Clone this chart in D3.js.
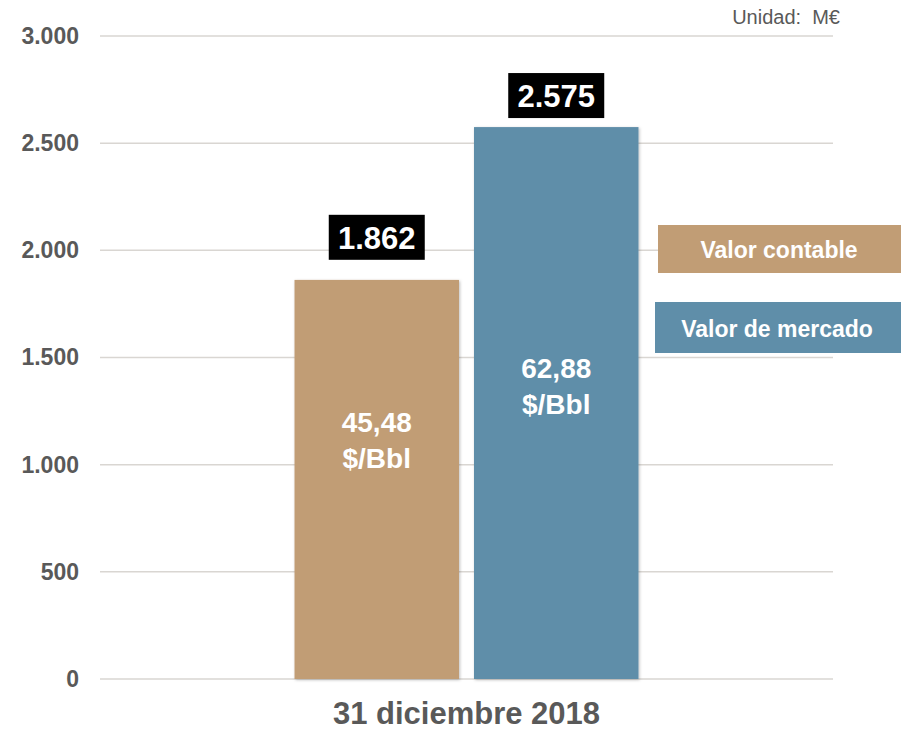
<!DOCTYPE html>
<html>
<head>
<meta charset="utf-8">
<script src="https://cdn.jsdelivr.net/npm/d3@7"></script>
<style>
  body { margin: 0; background: #fff; }
  svg { font-family: "Liberation Sans", Arial, sans-serif; }
</style>
</head>
<body>
<div id="chart"></div>
<script>
'use strict';

// Data
const categories = ['31 diciembre 2018'];
const series = ['Valor contable', 'Valor de mercado'];
const values = [1862, 2575];
const valueLabels = ['1.862', '2.575'];
const priceLabels = [['45,48', '$/Bbl'], ['62,88', '$/Bbl']];
const yTicks = [0, 500, 1000, 1500, 2000, 2500, 3000];
const yTickLabels = ['0', '500', '1.000', '1.500', '2.000', '2.500', '3.000'];
const colors = ['#c19d75', '#5f8ea9'];

const width = 901, height = 730;
const margin = { top: 36, right: 68, bottom: 51, left: 100 };
const innerW = width - margin.left - margin.right;
const innerH = height - margin.top - margin.bottom;

const svg = d3.select('#chart').append('svg')
  .attr('width', width)
  .attr('height', height);

const defs = svg.append('defs');
const shadow = defs.append('filter').attr('id', 'shadow')
  .attr('x', '-10%').attr('y', '-10%').attr('width', '120%').attr('height', '120%');
shadow.append('feDropShadow')
  .attr('dx', 1).attr('dy', 1).attr('stdDeviation', 1.5)
  .attr('flood-color', '#000').attr('flood-opacity', 0.25);

const g = svg.append('g')
  .attr('transform', 'translate(' + margin.left + ',' + margin.top + ')');

// Scales
const x0 = d3.scaleBand().domain(categories).range([0, innerW]).paddingOuter(0.5655);
const x1 = d3.scaleBand().domain(series).range([0, x0.bandwidth()]).paddingInner(0.0836);
const y = d3.scaleLinear().domain([0, 3000]).range([innerH, 0]);

// Grid lines
g.append('g')
  .selectAll('line')
  .data(yTicks)
  .enter().append('line')
  .attr('x1', 0).attr('x2', innerW)
  .attr('y1', d => y(d)).attr('y2', d => y(d))
  .attr('stroke', '#d9d6d2')
  .attr('stroke-width', 1.5);

// Y axis labels
const yAxis = g.append('g')
  .call(d3.axisLeft(y).tickValues(yTicks).tickFormat((d, i) => yTickLabels[i]).tickSize(0).tickPadding(21));
yAxis.select('.domain').remove();
yAxis.selectAll('text')
  .attr('font-family', '"Liberation Sans", Arial, sans-serif')
  .attr('font-size', 23)
  .attr('font-weight', 'bold')
  .attr('fill', '#595959');

// X axis label
const xAxis = g.append('g')
  .attr('transform', 'translate(0,' + innerH + ')')
  .call(d3.axisBottom(x0).tickSize(0).tickPadding(23));
xAxis.select('.domain').remove();
xAxis.selectAll('text')
  .attr('font-family', '"Liberation Sans", Arial, sans-serif')
  .attr('font-size', 31)
  .attr('font-weight', 'bold')
  .attr('fill', '#595959');

// Bars
const group = g.append('g').attr('transform', 'translate(' + x0(categories[0]) + ',0)');

const barData = series.map((s, i) => ({ s, v: values[i], i }));

group.selectAll('.bar')
  .data(barData)
  .enter().append('rect')
  .attr('class', 'bar')
  .attr('x', d => x1(d.s))
  .attr('width', x1.bandwidth())
  .attr('y', d => y(d.v))
  .attr('height', d => innerH - y(d.v))
  .attr('fill', d => colors[d.i])
  .attr('filter', 'url(#shadow)');

// Value labels in black boxes (gap shrinks a little for taller bars)
const boxW = 96, boxH = 45;
const boxGap = d => 49 - 0.0724 * (innerH - y(d.v));
const vl = group.selectAll('.vlabel')
  .data(barData)
  .enter().append('g')
  .attr('class', 'vlabel')
  .attr('transform', d => 'translate(' + (x1(d.s) + x1.bandwidth() / 2) + ',' + (y(d.v) - boxGap(d) - boxH) + ')');
vl.append('rect')
  .attr('x', -boxW / 2).attr('width', boxW)
  .attr('y', 0).attr('height', boxH)
  .attr('fill', '#000');
vl.append('text')
  .attr('text-anchor', 'middle')
  .attr('y', 34)
  .attr('font-size', 31)
  .attr('font-weight', 'bold')
  .attr('fill', '#fff')
  .text(d => valueLabels[d.i]);

// Price labels inside bars
const pl = group.selectAll('.plabel')
  .data(barData)
  .enter().append('text')
  .attr('class', 'plabel')
  .attr('text-anchor', 'middle')
  .attr('font-size', 28)
  .attr('font-weight', 'bold')
  .attr('fill', '#fff')
  .attr('x', d => x1(d.s) + x1.bandwidth() / 2)
  .attr('y', d => y(d.v) + 0.647 * (innerH - y(d.v)) - 106);
pl.selectAll('tspan')
  .data(d => priceLabels[d.i].map(t => ({ t, x: x1(d.s) + x1.bandwidth() / 2 })))
  .enter().append('tspan')
  .attr('x', d => d.x)
  .attr('dy', (d, i) => i === 0 ? 0 : 36)
  .text(d => d.t);

// Legend
const legendBoxes = [
  { x: 658, y: 225, w: 243, h: 48, cx: 779 },
  { x: 655, y: 302, w: 246, h: 51, cx: 777 }
];
const leg = svg.append('g').selectAll('.legend')
  .data(series)
  .enter().append('g')
  .attr('class', 'legend');
leg.append('rect')
  .attr('x', (d, i) => legendBoxes[i].x)
  .attr('y', (d, i) => legendBoxes[i].y)
  .attr('width', (d, i) => legendBoxes[i].w)
  .attr('height', (d, i) => legendBoxes[i].h)
  .attr('fill', (d, i) => colors[i]);
leg.append('text')
  .attr('x', (d, i) => legendBoxes[i].cx)
  .attr('y', (d, i) => legendBoxes[i].y + legendBoxes[i].h / 2 + 9)
  .attr('text-anchor', 'middle')
  .attr('font-size', 23)
  .attr('font-weight', 'bold')
  .attr('fill', '#fff')
  .text(d => d);

// Unit
svg.append('text')
  .attr('x', 840)
  .attr('y', 24)
  .attr('text-anchor', 'end')
  .attr('font-size', 20)
  .attr('fill', '#595959')
  .attr('xml:space', 'preserve')
  .text('Unidad:  M€');
</script>
</body>
</html>
